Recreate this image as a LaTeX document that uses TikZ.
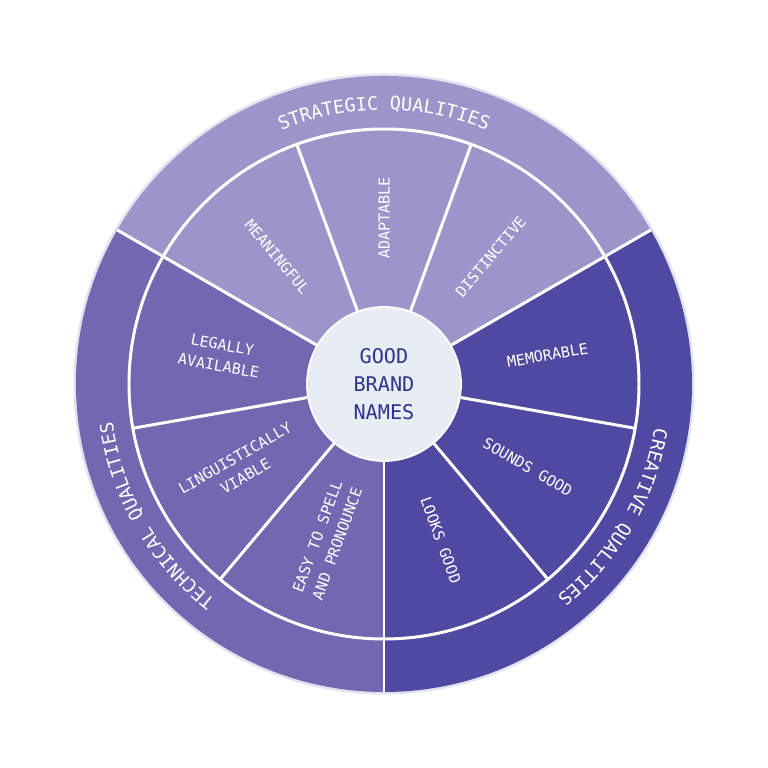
\documentclass[tikz,border=0pt]{standalone}
\usepackage{fontspec}
\usepackage{tikz}
\usetikzlibrary{decorations.text}

\newfontfamily\monofont{DejaVu Sans Mono}
\newcommand{\bandfont}{\monofont\fontsize{10.5}{12}\selectfont}

\definecolor{strategic}{HTML}{9C95C9}
\definecolor{technical}{HTML}{7367B1}
\definecolor{creative}{HTML}{4F49A1}
\definecolor{hubfill}{HTML}{E8EDF4}
\definecolor{hubtext}{HTML}{2F338E}
\definecolor{rim}{HTML}{DFE3F0}

\tikzset{
  sector/.style={text=white, align=center, font=\monofont\fontsize{8.6}{12}\selectfont},
  divider/.style={white, line width=1.7pt},
  band/.style={decorate, decoration={text along path, text align=center, text={|\bandfont\color{white}|#1}}}
}

\begin{document}
\begin{tikzpicture}
    \useasboundingbox (-7.68,-7.68) rectangle (7.68,7.68);

    % rim and the three groups
    \fill[rim] (0,0) circle (6.21);
    \fill[strategic] (0,0) -- (30:6.16) arc[start angle=30, end angle=150, radius=6.16] -- cycle;
    \fill[technical] (0,0) -- (150:6.16) arc[start angle=150, end angle=270, radius=6.16] -- cycle;
    \fill[creative] (0,0) -- (270:6.16) arc[start angle=270, end angle=390, radius=6.16] -- cycle;

    \draw[divider] (0,0) circle (5.1);

    \node[circle, fill=hubfill, draw=white, line width=1pt, minimum size=3.08cm, text=hubtext, align=center,
          font=\monofont\fontsize{11.5}{16}\selectfont] (hub) at (0,0) {GOOD\\BRAND\\NAMES};

    % spokes
    \draw[divider] (hub.30) -- (30:6.16);
    \draw[divider] (hub.70) -- (70:5.1);
    \draw[divider] (hub.110) -- (110:5.1);
    \draw[divider] (hub.150) -- (150:6.16);
    \draw[divider] (hub.190) -- (190:5.1);
    \draw[divider] (hub.230) -- (230:5.1);
    \draw[divider] (hub.270) -- (270:6.16);
    \draw[divider] (hub.310) -- (310:5.1);
    \draw[divider] (hub.350) -- (350:5.1);

    % sector labels
    \node[sector, rotate=-50] (meaningful) at (130:3.32) {MEANINGFUL};
    \node[sector, rotate=90] (adaptable) at (90:3.32) {ADAPTABLE};
    \node[sector, rotate=50] (distinctive) at (50:3.32) {DISTINCTIVE};
    \node[sector, rotate=10] (memorable) at (10:3.32) {MEMORABLE};
    \node[sector, rotate=-30] (sounds) at (-30:3.32) {SOUNDS GOOD};
    \node[sector, rotate=-70] (looks) at (-70:3.32) {LOOKS GOOD};
    \node[sector, rotate=70] (spell) at (-110:3.32) {EASY TO SPELL\\AND PRONOUNCE};
    \node[sector, rotate=30] (viable) at (-150:3.32) {LINGUISTICALLY\\VIABLE};
    \node[sector, rotate=-10] (legal) at (170:3.32) {LEGALLY\\AVAILABLE};

    % group labels on the rim
    \path[band={STRATEGIC QUALITIES}] (150:5.48) arc[start angle=150, end angle=30, radius=5.48];
    \path[band={CREATIVE QUALITIES}] (30:5.48) arc[start angle=30, end angle=-90, radius=5.48];
    \path[band={TECHNICAL QUALITIES}] (270:5.48) arc[start angle=270, end angle=150, radius=5.48];

\end{tikzpicture}
\end{document}
